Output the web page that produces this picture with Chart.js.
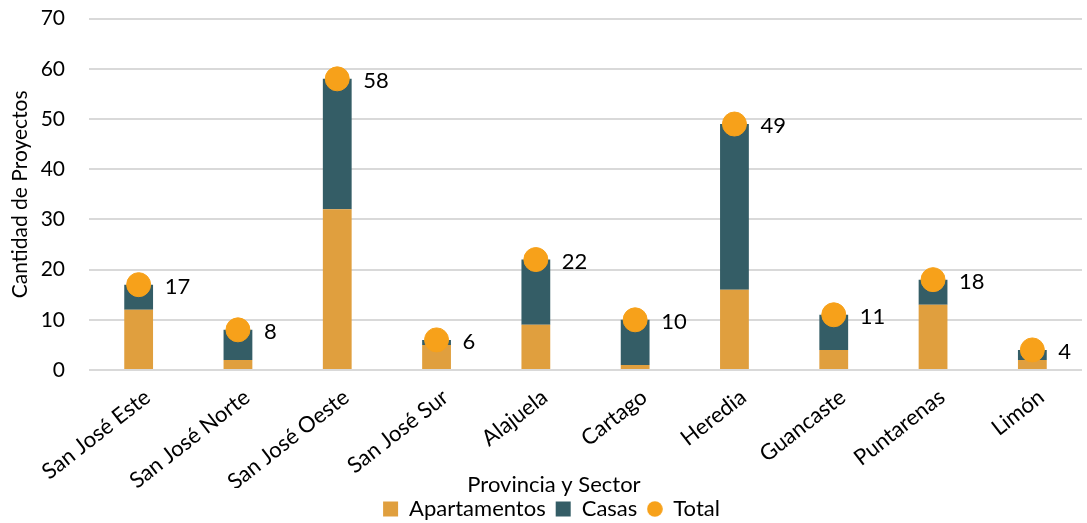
<!DOCTYPE html>
<html>
<head>
<meta charset="utf-8">
<script src="https://cdn.jsdelivr.net/npm/chart.js@4/dist/chart.umd.min.js"></script>
<style>
  html, body { margin: 0; padding: 0; background: #fff; overflow: hidden; }
  #wrap { width: 1095px; height: 548px; margin-top: -18px; }
</style>
</head>
<body>
<div id="wrap"><canvas id="grafico"></canvas></div>
<script>
// proyectos por provincia y sector
let provincias = ["San José Este", "San José Norte", "San José Oeste", "San José Sur", "Alajuela", "Cartago", "Heredia", "Guancaste", "Puntarenas", "Limón"];
let apartamentos = [12, 2, 32, 5, 9, 1, 16, 4, 13, 2];
let casas = [5, 6, 26, 1, 13, 9, 33, 7, 5, 2];
let total = [17, 8, 58, 6, 22, 10, 49, 11, 18, 4];

let fuente = "Lato, 'Noto Sans', sans-serif";
let colorTotal = "#F7A11A";

// circulo pequeño para la leyenda de Total
let circulo = document.createElement("canvas");
circulo.width = 16;
circulo.height = 16;
let cctx = circulo.getContext("2d");
cctx.fillStyle = colorTotal;
cctx.beginPath();
cctx.arc(8, 8, 7.8, 0, Math.PI * 2);
cctx.fill();

// etiqueta con el total a la derecha de cada punto + titulo del eje x
const etiquetaTotal = {
  id: "etiquetaTotal",
  afterDatasetsDraw(chart) {
    let ctx = chart.ctx;
    let meta = chart.getDatasetMeta(2);
    ctx.save();
    ctx.font = "22px " + fuente;
    ctx.fillStyle = "#000";
    ctx.textAlign = "left";
    ctx.textBaseline = "middle";
    meta.data.forEach((p, i) => {
      ctx.fillText(total[i], p.x + 26, p.y + 2);
    });
    ctx.textAlign = "center";
    ctx.fillText("Provincia y Sector", 554, 503);
    ctx.restore();
  }
};

new Chart(document.getElementById("grafico"), {
  type: "bar",
  data: {
    labels: provincias,
    datasets: [
      {
        label: "Apartamentos",
        data: apartamentos,
        backgroundColor: "#E09F3E",
        barPercentage: 0.29,
        categoryPercentage: 1,
        order: 1
      },
      {
        label: "Casas",
        data: casas,
        backgroundColor: "#345D66",
        barPercentage: 0.29,
        categoryPercentage: 1,
        order: 1
      },
      {
        type: "line",
        label: "Total",
        data: total,
        showLine: false,
        pointRadius: 12,
        pointHoverRadius: 12,
        pointBackgroundColor: colorTotal,
        pointBorderColor: colorTotal,
        backgroundColor: colorTotal,
        borderColor: colorTotal,
        order: 0
      }
    ]
  },
  options: {
    responsive: true,
    maintainAspectRatio: false,
    animation: false,
    layout: { padding: { top: 0, right: 0, left: 8, bottom: 0 } },
    plugins: {
      tooltip: { enabled: false },
      legend: {
        position: "bottom",
        labels: {
          font: { family: fuente, size: 22 },
          color: "#000",
          boxWidth: 15,
          boxHeight: 15,
          padding: 10,
          usePointStyle: true,
          sort: (a, b) => a.datasetIndex - b.datasetIndex,
          generateLabels(chart) {
            return chart.data.datasets.map((ds, i) => ({
              text: ds.label,
              fillStyle: ds.backgroundColor,
              strokeStyle: ds.backgroundColor,
              lineWidth: 0,
              pointStyle: i === 2 ? circulo : "rect",
              datasetIndex: i
            }));
          }
        }
      }
    },
    scales: {
      x: {
        stacked: true,
        grid: { display: false },
        border: { display: false },
        afterFit(scale) {
          scale.height = 118;
          scale.paddingLeft = 0;
          scale.paddingRight = 0;
        },
        ticks: {
          font: { family: fuente, size: 22 },
          color: "#000",
          maxRotation: 38,
          minRotation: 38,
          labelOffset: 9,
          padding: 6
        }
      },
      y: {
        stacked: true,
        min: 0,
        max: 70,
        afterFit(scale) { scale.width = 81; },
        ticks: {
          stepSize: 10,
          font: { family: fuente, size: 21 },
          color: "#000",
          padding: 24
        },
        grid: { color: "#D9D9D9", lineWidth: 2, drawTicks: false },
        border: { display: false },
        title: {
          display: true,
          text: "Cantidad de Proyectos",
          font: { family: fuente, size: 21 },
          color: "#000",
          padding: { top: 0, bottom: 8 }
        }
      }
    }
  },
  plugins: [etiquetaTotal]
});
</script>
</body>
</html>
